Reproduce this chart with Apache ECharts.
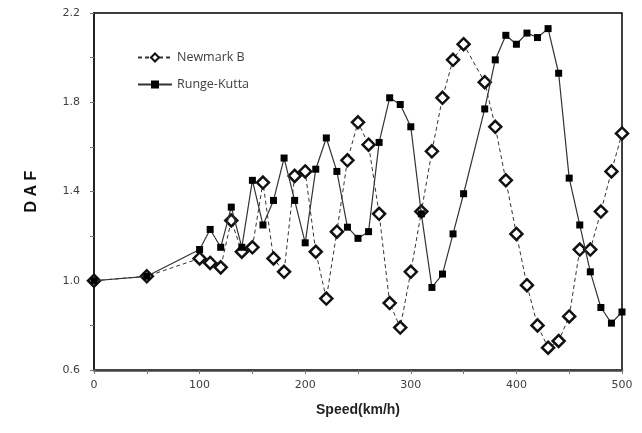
<!DOCTYPE html>
<html>
<head>
<meta charset="utf-8">
<script src="https://cdn.jsdelivr.net/npm/echarts@6/dist/echarts.min.js"></script>
<style>
html, body { margin: 0; padding: 0; background: #fff; }
#chart { width: 642px; height: 433px; }
</style>
</head>
<body>
<div id="chart"></div>
<script>
var speeds = [0, 50, 100, 110, 120, 130, 140, 150, 160, 170, 180, 190, 200, 210, 220, 230, 240, 250,
	260, 270, 280, 290, 300, 310, 320, 330, 340, 350, 370, 380, 390, 400, 410, 420, 430, 440, 450,
	460, 470, 480, 490, 500];

var newmark = [1.00, 1.02, 1.10, 1.08, 1.06, 1.27, 1.13, 1.15, 1.44, 1.10, 1.04, 1.47, 1.49, 1.13,
	0.92, 1.22, 1.54, 1.71, 1.61, 1.30, 0.90, 0.79, 1.04, 1.31, 1.58, 1.82, 1.99, 2.06, 1.89, 1.69,
	1.45, 1.21, 0.98, 0.80, 0.70, 0.73, 0.84, 1.14, 1.14, 1.31, 1.49, 1.66];

var rungeKutta = [1.00, 1.02, 1.14, 1.23, 1.15, 1.33, 1.15, 1.45, 1.25, 1.36, 1.55, 1.36, 1.17, 1.50,
	1.64, 1.49, 1.24, 1.19, 1.22, 1.62, 1.82, 1.79, 1.69, 1.30, 0.97, 1.03, 1.21, 1.39, 1.77, 1.99,
	2.10, 2.06, 2.11, 2.09, 2.13, 1.93, 1.46, 1.25, 1.04, 0.88, 0.81, 0.86];

function pairs(xs, ys) {
	var res = [];
	for (var i = 0; i < xs.length; i++) {
		res.push([xs[i], ys[i]]);
	}
	return res;
}

var chart = echarts.init(document.getElementById('chart'));

var option = {
	animation: false,
	grid: {
		left: 94,
		right: 20,
		top: 13,
		bottom: 63,
		show: true,
		borderColor: '#000',
		borderWidth: 1.5
	},
	legend: {
		orient: 'vertical',
		left: 132,
		top: 46,
		itemGap: 14,
		itemWidth: 34,
		itemHeight: 10,
		textStyle: {
			fontFamily: 'Open Sans',
			fontSize: 12.5,
			color: '#404040'
		},
		data: ['Newmark B', 'Runge-Kutta']
	},
	xAxis: {
		type: 'value',
		min: 0,
		max: 500,
		interval: 100,
		name: 'Speed(km/h)',
		nameLocation: 'middle',
		nameGap: 33,
		nameTextStyle: {
			fontFamily: 'Liberation Sans',
			fontSize: 14,
			fontWeight: 'bold',
			color: '#222'
		},
		axisLine: { lineStyle: { color: '#444', width: 2.5 } },
		axisTick: { show: true, length: 4, lineStyle: { color: '#777' } },
		minorTick: { show: true, splitNumber: 2, length: 4, lineStyle: { color: '#777' } },
		splitLine: { show: false },
		axisLabel: {
			fontFamily: 'DejaVu Sans',
			fontSize: 11,
			color: '#404040',
			margin: 10
		}
	},
	yAxis: {
		type: 'value',
		min: 0.6,
		max: 2.2,
		interval: 0.4,
		name: 'D A F',
		nameLocation: 'middle',
		nameGap: 54,
		nameTextStyle: {
			fontFamily: 'Liberation Sans',
			fontSize: 16,
			fontWeight: 'bold',
			color: '#111'
		},
		axisLine: { show: true, lineStyle: { color: '#222', width: 2 } },
		axisTick: { show: true, length: 4, lineStyle: { color: '#777' } },
		minorTick: { show: true, splitNumber: 2, length: 4, lineStyle: { color: '#777' } },
		splitLine: { show: false },
		axisLabel: {
			fontFamily: 'DejaVu Sans',
			fontSize: 11,
			color: '#404040',
			margin: 14,
			formatter: function (v) { return v.toFixed(1); }
		}
	},
	series: [{
		name: 'Newmark B',
		type: 'line',
		data: pairs(speeds, newmark),
		symbol: 'diamond',
		symbolSize: 12,
		itemStyle: { color: '#fff', borderColor: '#111', borderWidth: 2.5 },
		lineStyle: { color: '#333', width: 1, type: [4, 3] },
		z: 2
	}, {
		name: 'Runge-Kutta',
		type: 'line',
		data: pairs(speeds, rungeKutta),
		symbol: 'rect',
		symbolSize: 7,
		itemStyle: { color: '#000', borderColor: '#000', borderWidth: 0 },
		lineStyle: { color: '#333', width: 1.2 },
		z: 3
	}]
};

chart.setOption(option);
</script>
</body>
</html>
